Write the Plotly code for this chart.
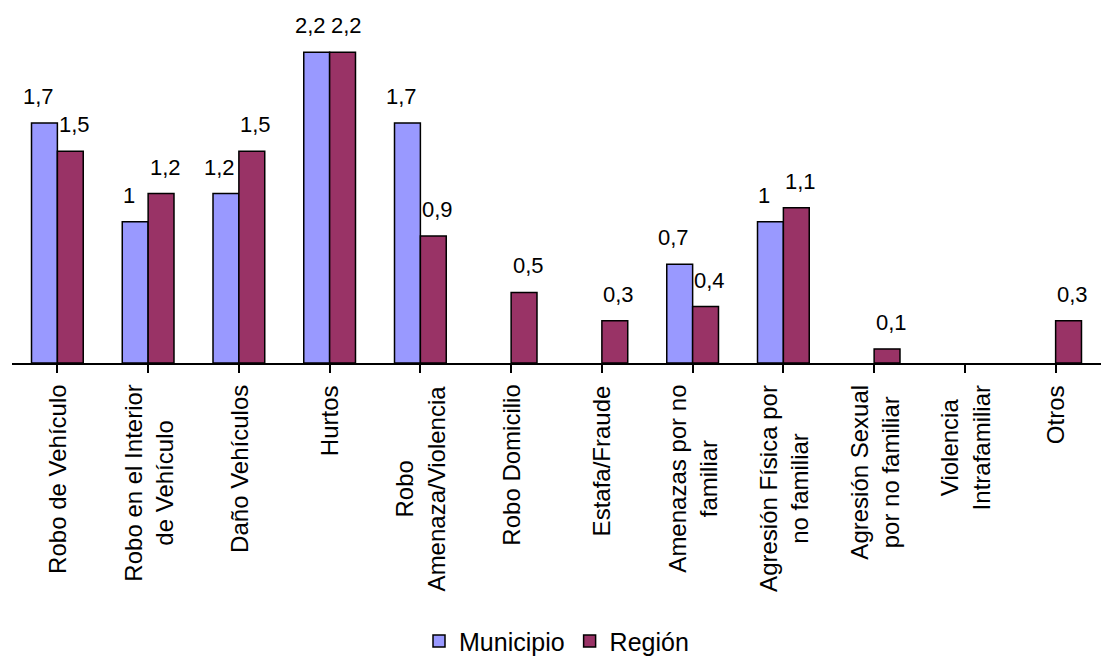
import plotly.graph_objects as go

categories = [
    "Robo de Vehículo",
    "Robo en el Interior<br>de Vehículo",
    "Daño Vehículos",
    "Hurtos",
    "Robo<br>Amenaza/Violencia",
    "Robo Domicilio",
    "Estafa/Fraude",
    "Amenazas por no<br>familiar",
    "Agresión Física por<br>no familiar",
    "Agresión Sexual<br>por no familiar",
    "Violencia<br>Intrafamiliar",
    "Otros",
]
municipio = [1.7, 1.0, 1.2, 2.2, 1.7, 0, 0, 0.7, 1.0, 0, 0, 0]
region = [1.5, 1.2, 1.5, 2.2, 0.9, 0.5, 0.3, 0.4, 1.1, 0.1, 0, 0.3]

FONT = "Arial, Liberation Sans, sans-serif"
BARGAP = 0.43
x_idx = list(range(len(categories)))
half = (1 - BARGAP) / 4  # offset of each bar centre from its category centre


def fmt(v):
    # decimal comma, blank for empty values
    if not v:
        return ""
    return f"{v:g}".replace(".", ",")


def series(name, values, color):
    return go.Bar(
        name=name,
        x=x_idx,
        y=[v if v else None for v in values],
        marker=dict(color=color, line=dict(color="black", width=1.5)),
        hoverinfo="skip",
    )


fig = go.Figure([
    series("Municipio", municipio, "#9999FF"),
    series("Región", region, "#993366"),
])

# value labels above each bar, nudged apart so neighbours don't collide
for values, dx, nudge in ((municipio, -half, -6), (region, half, 4)):
    for i, v in enumerate(values):
        if not v:
            continue
        fig.add_annotation(
            x=i + dx, y=v, xref="x", yref="y",
            text=fmt(v), showarrow=False,
            xanchor="center", yanchor="bottom", yshift=12, xshift=nudge,
            font=dict(family=FONT, size=22, color="black"),
        )

# rotated category labels under the axis
for i, label in enumerate(categories):
    fig.add_annotation(
        x=i, y=0, xref="x", yref="paper",
        text=label, textangle=-90, showarrow=False,
        xanchor="center", yanchor="top", yshift=-20, align="center",
        font=dict(family=FONT, size=24, color="black"),
    )

fig.update_layout(
    width=1101, height=657,
    margin=dict(l=12, r=0, t=10, b=294),
    paper_bgcolor="white", plot_bgcolor="white",
    barmode="group", bargap=BARGAP, bargroupgap=0,
    showlegend=True,
    legend=dict(
        orientation="h", x=0.5, xanchor="center",
        yref="container", y=0.024, yanchor="middle",
        font=dict(family=FONT, size=25, color="black"),
        itemwidth=30,
    ),
    xaxis=dict(
        range=[-0.5, len(categories) - 0.5],
        tickmode="array", tickvals=x_idx, ticktext=[""] * len(categories),
        showticklabels=False,
        ticks="outside", tickson="boundaries", ticklen=8,
        tickcolor="black", tickwidth=1.5,
        showline=True, linecolor="black", linewidth=1.5,
        showgrid=False, zeroline=False,
    ),
    yaxis=dict(
        range=[0, 2.5], visible=False, showgrid=False, zeroline=False,
    ),
)

fig.write_html("out.html")
